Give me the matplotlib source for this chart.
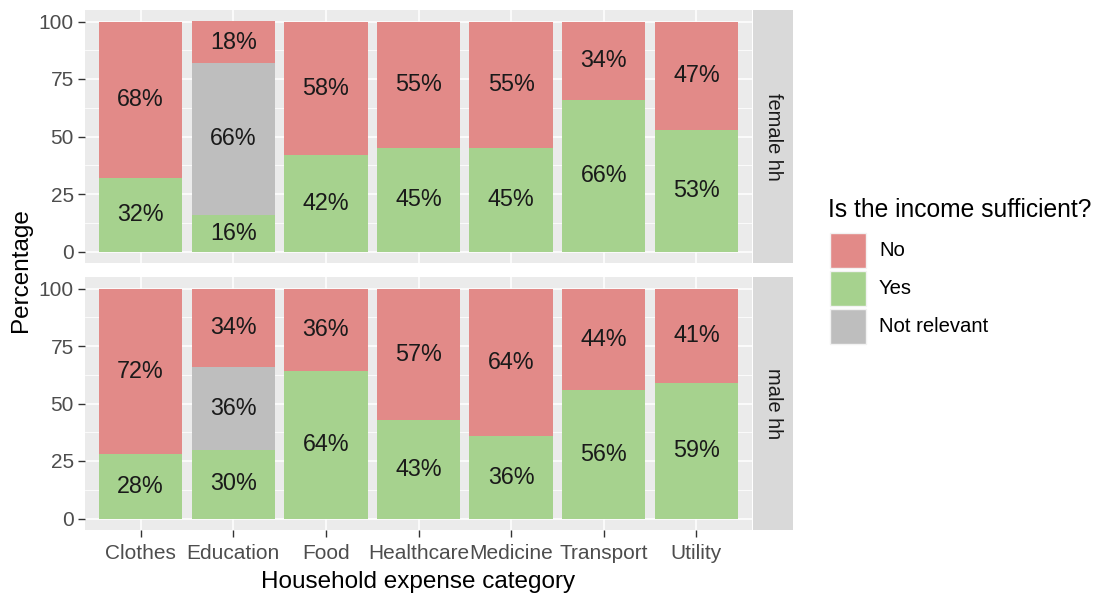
import numpy as np
import matplotlib.pyplot as plt
from matplotlib.patches import Rectangle

plt.rcParams['font.family'] = ['Liberation Sans', 'DejaVu Sans']

# data
categories = ['Clothes', 'Education', 'Food', 'Healthcare', 'Medicine', 'Transport', 'Utility']
groups = ['female hh', 'male hh']
levels = ['No', 'Yes', 'Not relevant']
colors = {'No': '#E28A88', 'Yes': '#A6D28E', 'Not relevant': '#BEBEBE'}

yes_female = [32, 16, 42, 45, 45, 66, 53]
nr_female = [0, 66, 0, 0, 0, 0, 0]
no_female = [68, 18, 58, 55, 55, 34, 47]

yes_male = [28, 30, 64, 43, 36, 56, 59]
nr_male = [0, 36, 0, 0, 0, 0, 0]
no_male = [72, 34, 36, 57, 64, 44, 41]

panel_data = [(yes_female, nr_female, no_female), (yes_male, nr_male, no_male)]

W, H = 1096, 596
fig = plt.figure(figsize=(W / 100, H / 100), dpi=100)

def fx(px):
    return px / W

def fy(py):
    return 1 - py / H

left, right = 85, 752
panels = [(10, 263), (277, 530)]
x = np.arange(len(categories))
lab_size = 16.8

for i, (top, bot) in enumerate(panels):
    ax = fig.add_axes([fx(left), fy(bot), fx(right) - fx(left), fy(top) - fy(bot)])
    ax.set_facecolor('#EBEBEB')
    ax.set_xlim(-0.6, len(categories) - 0.4)
    ax.set_ylim(-5, 105)
    ax.set_yticks([0, 25, 50, 75, 100])
    ax.set_yticks([12.5, 37.5, 62.5, 87.5], minor=True)
    ax.set_xticks(x)
    ax.grid(True, which='major', color='white', lw=1.1)
    ax.grid(True, which='minor', axis='y', color='white', lw=0.55)
    ax.set_axisbelow(True)
    for s in ax.spines.values():
        s.set_visible(False)
    ax.tick_params(which='major', length=5, color='#333333', labelcolor='#4D4D4D',
                   labelsize=15, width=1, pad=3)
    ax.tick_params(which='minor', length=0)

    yes, nr, no = panel_data[i]
    yes = np.array(yes); nr = np.array(nr); no = np.array(no)
    ax.bar(x, yes, width=0.9, color=colors['Yes'])
    ax.bar(x, nr, bottom=yes, width=0.9, color=colors['Not relevant'])
    ax.bar(x, no, bottom=yes + nr, width=0.9, color=colors['No'])
    for j in range(len(categories)):
        ax.text(x[j], yes[j] / 2, f'{yes[j]}%', ha='center', va='center', fontsize=lab_size, color='#1A1A1A')
        if nr[j] > 0:
            ax.text(x[j], yes[j] + nr[j] / 2, f'{nr[j]}%', ha='center', va='center', fontsize=lab_size, color='#1A1A1A')
        ax.text(x[j], yes[j] + nr[j] + no[j] / 2, f'{no[j]}%', ha='center', va='center', fontsize=lab_size, color='#1A1A1A')

    if i == 0:
        ax.set_xticklabels([])
        ax.tick_params(axis='x', length=0)
    else:
        ax.set_xticklabels(categories)
        ax.tick_params(axis='x', pad=5)

    # strip
    sax = fig.add_axes([fx(right + 1), fy(bot), fx(793) - fx(right + 1), fy(top) - fy(bot)])
    sax.set_facecolor('#D9D9D9')
    sax.set_xticks([]); sax.set_yticks([])
    for s in sax.spines.values():
        s.set_visible(False)
    sax.text(0.5, 0.5, groups[i], rotation=-90, ha='center', va='center',
             fontsize=14.4, color='#1A1A1A', transform=sax.transAxes)

fig.text(fx(21), fy(270), 'Percentage', rotation=90, ha='center', va='center', fontsize=17.5, color='black')
fig.text(fx((left + right) / 2), fy(582), 'Household expense category', ha='center', va='center',
         fontsize=17.5, color='black')

# legend
fig.text(fx(828), fy(210), 'Is the income sufficient?', ha='left', va='center', fontsize=17.7, color='black')
key_tops = [233, 271, 309]
for lev, kt in zip(levels, key_tops):
    fig.patches.append(Rectangle((fx(830), fy(kt + 35)), fx(866) - fx(830), fy(kt) - fy(kt + 35),
                                 transform=fig.transFigure, facecolor=colors[lev],
                                 edgecolor='#F2F2F2', lw=1))
    fig.text(fx(879), fy(kt + 17.5), lev, ha='left', va='center', fontsize=14.6, color='black')

fig.savefig('out.png', dpi=100)
